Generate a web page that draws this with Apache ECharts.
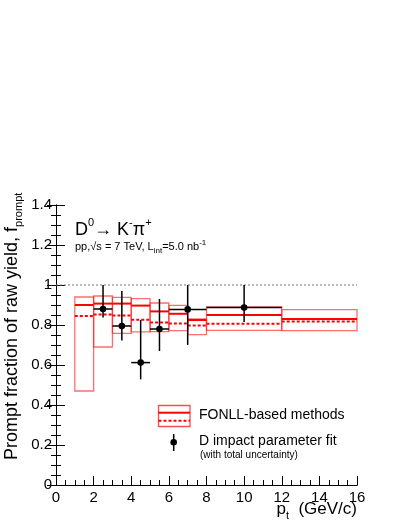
<!DOCTYPE html>
<html lang="en">
<head>
    <meta charset="UTF-8">
    <title>Prompt fraction of raw yield</title>
    <script src="https://cdn.jsdelivr.net/npm/echarts@6/dist/echarts.min.js"></script>
    <style>
        html, body { margin: 0; padding: 0; background: #fff; }
        #main { width: 407px; height: 527px; }
    </style>
</head>
<body>
<div id="main"></div>
<script>
    // FONLL-based bins (pt in GeV/c)
    var binLo = [1, 2, 3, 4, 5, 6, 7, 8, 12];
    var binHi = [2, 3, 4, 5, 6, 7, 8, 12, 16];
    var fcValue = [0.900, 0.907, 0.907, 0.897, 0.868, 0.856, 0.825, 0.850, 0.830];
    var nbValue = [0.845, 0.853, 0.848, 0.826, 0.812, 0.808, 0.798, 0.806, 0.817];
    var sysHigh = [0.940, 0.945, 0.938, 0.932, 0.910, 0.898, 0.830, 0.890, 0.877];
    var sysLow  = [0.470, 0.690, 0.758, 0.766, 0.767, 0.772, 0.752, 0.773, 0.772];

    // D impact parameter fit points
    var ptPoint = [2.5, 3.5, 4.5, 5.5, 7, 10];
    var ptLo = [2, 3, 4, 5, 6, 8];
    var ptHi = [3, 4, 5, 6, 8, 12];
    var fPrompt = [0.880, 0.795, 0.612, 0.780, 0.878, 0.887];
    var errTop = [1.000, 0.970, 0.825, 0.930, 1.000, 1.000];
    var errBottom = [0.837, 0.723, 0.528, 0.670, 0.700, 0.815];

    var font = 'Liberation Sans, Arial, Helvetica, sans-serif';

    var myChart = echarts.init(document.getElementById('main'));

    function boxItem(params, api) {
        var a = api.coord([api.value(0), api.value(3)]);
        var b = api.coord([api.value(1), api.value(2)]);
        return {
            type: 'rect',
            shape: {x: a[0], y: b[1], width: b[0] - a[0], height: a[1] - b[1]},
            style: {fill: 'none', stroke: 'rgba(255,30,30,0.65)', lineWidth: 1.3}
        };
    }

    function levelItem(dash) {
        return function (params, api) {
            var a = api.coord([api.value(0), api.value(2)]);
            var b = api.coord([api.value(1), api.value(2)]);
            return {
                type: 'line',
                shape: {x1: a[0], y1: a[1], x2: b[0], y2: b[1]},
                style: {stroke: '#ff0000', lineWidth: 2, lineDash: dash}
            };
        };
    }

    function errItem(params, api) {
        var c = api.coord([api.value(0), api.value(1)]);
        var l = api.coord([api.value(2), api.value(1)]);
        var r = api.coord([api.value(3), api.value(1)]);
        var t = api.coord([api.value(0), api.value(4)]);
        var d = api.coord([api.value(0), api.value(5)]);
        var st = {stroke: '#000', lineWidth: 1.5};
        return {
            type: 'group',
            children: [
                {type: 'line', shape: {x1: l[0], y1: l[1], x2: r[0], y2: r[1]}, style: st},
                {type: 'line', shape: {x1: t[0], y1: t[1], x2: d[0], y2: d[1]}, style: st},
                {type: 'circle', shape: {cx: c[0], cy: c[1], r: 3.3}, style: {fill: '#000'}}
            ]
        };
    }

    var binData = binLo.map(function (lo, i) { return [lo, binHi[i], sysHigh[i], sysLow[i]]; });
    var fcData = binLo.map(function (lo, i) { return [lo, binHi[i], fcValue[i]]; });
    var nbData = binLo.map(function (lo, i) { return [lo, binHi[i], nbValue[i]]; });
    var pointData = ptPoint.map(function (x, i) {
        return [x, fPrompt[i], ptLo[i], ptHi[i], errTop[i], errBottom[i]];
    });

    var axisLineStyle = {lineStyle: {color: '#000', width: 1}};

    var option = {
        animation: false,
        backgroundColor: '#fff',
        grid: {left: 56, right: 50, top: 205, bottom: 42, containLabel: false},
        xAxis: [{
            type: 'value', min: 0, max: 16, interval: 2,
            axisLine: axisLineStyle,
            axisTick: {inside: true, length: 9, lineStyle: {color: '#000'}},
            minorTick: {show: true, splitNumber: 4, length: 5, lineStyle: {color: '#000'}},
            axisLabel: {color: '#000', fontSize: 15, fontFamily: font, margin: 5},
            splitLine: {show: false}
        }, {
            type: 'value', min: 0, max: 16, position: 'top',
            axisLine: axisLineStyle,
            axisTick: {show: false},
            axisLabel: {show: false},
            splitLine: {show: false}
        }],
        yAxis: [{
            type: 'value', min: 0, max: 1.4, interval: 0.2,
            axisLine: axisLineStyle,
            axisTick: {inside: true, length: 9, lineStyle: {color: '#000'}},
            minorTick: {show: true, splitNumber: 4, length: 5, lineStyle: {color: '#000'}},
            axisLabel: {color: '#000', fontSize: 15, fontFamily: font, margin: 4},
            splitLine: {show: false}
        }, {
            type: 'value', min: 0, max: 1.4, interval: 0.2, position: 'right',
            axisLine: axisLineStyle,
            axisTick: {inside: true, length: 9, lineStyle: {color: '#000'}},
            minorTick: {show: true, splitNumber: 4, length: 5, lineStyle: {color: '#000'}},
            axisLabel: {show: false},
            splitLine: {show: false}
        }],
        series: [{
            type: 'line',
            data: [[0, 1], [16, 1]],
            symbol: 'none',
            lineStyle: {color: '#777', width: 1, type: [2, 2]},
            silent: true
        }, {
            type: 'custom', renderItem: boxItem, data: binData
        }, {
            type: 'custom', renderItem: levelItem(null), data: fcData
        }, {
            type: 'custom', renderItem: levelItem([3, 2]), data: nbData
        }, {
            type: 'custom', renderItem: errItem, data: pointData, z: 5
        }],
        graphic: [
            {
                type: 'text', left: 75, top: 217,
                style: {
                    text: '{m|D}{u|0}{m|\u2192 K}{u|-}{m|\u03c0}{u|+}',
                    font: '18px ' + font,
                    rich: {
                        m: {fontSize: 18, fontFamily: font, fill: '#000', lineHeight: 22, verticalAlign: 'bottom'},
                        u: {fontSize: 11, fontFamily: font, fill: '#000', lineHeight: 22, verticalAlign: 'top'}
                    }
                }
            },
            {
                type: 'text', left: 75, top: 239,
                style: {
                    text: '{m|pp,\u221as = 7 TeV, L}{d|int}{m|=5.0 nb}{u|-1}',
                    rich: {
                        m: {fontSize: 11, fontFamily: font, fill: '#000', lineHeight: 16, verticalAlign: 'middle'},
                        d: {fontSize: 8, fontFamily: font, fill: '#000', lineHeight: 16, verticalAlign: 'bottom'},
                        u: {fontSize: 8, fontFamily: font, fill: '#000', lineHeight: 16, verticalAlign: 'top'}
                    }
                }
            },
            {
                type: 'text', x: 12, y: 460, rotation: Math.PI / 2,
                style: {
                    text: '{m|Prompt fraction of raw yield, f}{d|prompt}',
                    textAlign: 'left', textVerticalAlign: 'middle',
                    rich: {
                        m: {fontSize: 18, fontFamily: font, fill: '#000', lineHeight: 24, verticalAlign: 'middle'},
                        d: {fontSize: 11, fontFamily: font, fill: '#000', lineHeight: 24, verticalAlign: 'bottom'}
                    }
                }
            },
            {
                type: 'text', right: 50, top: 501,
                style: {
                    text: '{m|p}{d|t}{m|  (GeV/c)}',
                    rich: {
                        m: {fontSize: 17, fontFamily: font, fill: '#000', lineHeight: 24, verticalAlign: 'middle'},
                        d: {fontSize: 11, fontFamily: font, fill: '#000', lineHeight: 24, verticalAlign: 'bottom'}
                    }
                }
            },
            // legend
            {
                type: 'rect', shape: {x: 158.5, y: 405.5, width: 31.5, height: 21},
                style: {fill: 'none', stroke: 'rgba(255,30,30,0.8)', lineWidth: 1.3}
            },
            {
                type: 'line', shape: {x1: 158.5, y1: 412.7, x2: 190, y2: 412.7},
                style: {stroke: '#ff0000', lineWidth: 2}
            },
            {
                type: 'line', shape: {x1: 158.5, y1: 420.7, x2: 190, y2: 420.7},
                style: {stroke: '#ff0000', lineWidth: 2, lineDash: [3, 2]}
            },
            {
                type: 'text', left: 199, top: 408,
                style: {text: 'FONLL-based methods', font: '14px ' + font, fill: '#000'}
            },
            {
                type: 'line', shape: {x1: 173.7, y1: 434, x2: 173.7, y2: 451},
                style: {stroke: '#000', lineWidth: 1.5}
            },
            {
                type: 'circle', shape: {cx: 173.7, cy: 442.3, r: 3.3},
                style: {fill: '#000'}
            },
            {
                type: 'text', left: 199, top: 434,
                style: {text: 'D impact parameter fit', font: '14px ' + font, fill: '#000'}
            },
            {
                type: 'text', left: 200, top: 450,
                style: {text: '(with total uncertainty)', font: '10px ' + font, fill: '#000'}
            }
        ]
    };

    myChart.setOption(option);
</script>
</body>
</html>
